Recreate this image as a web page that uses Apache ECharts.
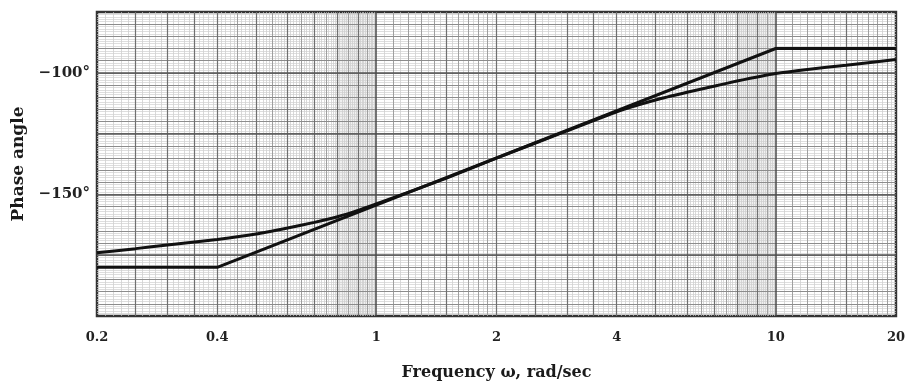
<!DOCTYPE html>
<html>
<head>
<meta charset="utf-8">
<script src="https://cdn.jsdelivr.net/npm/echarts@6/dist/echarts.min.js"></script>
<style>
  html, body { margin: 0; padding: 0; background: #fff; }
  #chart { width: 908px; height: 388px; }
</style>
</head>
<body>
<div id="chart"></div>
<script>
// straight-line (asymptotic) phase approximation
var asymFreq = [0.2, 0.4, 10, 20];
var asymPhase = [-180, -180, -90, -90];

var curveFreq = [0.2, 0.25, 0.3, 0.4, 0.5, 0.6, 0.7, 0.8, 0.9, 1, 1.5, 2, 3, 4, 5, 6, 7, 8, 10, 12, 15, 20];
var curvePhase = [-174, -172.3, -170.8, -168.5, -166.3, -163.8, -161.5, -159.2, -156.6, -153.9,
                  -143.3, -135.1, -123.9, -116, -111.2, -108, -105.5, -103.4, -100.3, -98.6, -96.9, -94.5];

// tick labels
var xTickLabels = [0.2, 0.4, 1, 2, 4, 10, 20];
var yTickLabels = [-150, -100];

// log paper rulings
var xHeavy = [1, 10];
var xMedium = [0.25, 0.3, 0.35, 0.4, 0.5, 0.6, 0.7, 0.8, 0.9, 1.5, 2, 2.5, 3, 3.5, 4, 5, 6, 7, 8, 9, 15];
var xLight = [1.1, 1.2, 1.3, 1.4, 1.6, 1.7, 1.8, 1.9, 11, 12, 13, 14, 16, 17, 18, 19,
              0.45, 0.55, 0.65, 0.75, 0.85, 0.95, 4.5, 5.5, 6.5, 7.5, 8.5, 9.5];

function steps(a, b, d) {
  var out = [];
  for (var i = 1; a + i * d < b - d / 2; i++) out.push(+(a + i * d).toFixed(4));
  return out;
}
var xFine = steps(0.2, 1, 0.01).concat(steps(1, 2, 0.05), steps(2, 10, 0.1), steps(10, 20, 0.5));
var yHeavy = steps(-200, -75, 25);
var yLight = steps(-200, -75, 5);
var yFine = steps(-200, -75, 1);

function vLines(vals, color, width) {
  return vals.map(function (v) {
    return { xAxis: v, lineStyle: { color: color, width: width, type: 'solid' } };
  });
}
function hLines(vals, color, width) {
  return vals.map(function (v) {
    return { yAxis: v, lineStyle: { color: color, width: width, type: 'solid' } };
  });
}

var chart = echarts.init(document.getElementById('chart'));
var serif = '"DejaVu Serif", serif';

var option = {
  animation: false,
  backgroundColor: '#fff',
  grid: {
    left: 97, right: 10, top: 12, bottom: 72,
    show: true, borderColor: '#333', borderWidth: 2.5, backgroundColor: 'transparent'
  },
  xAxis: {
    type: 'log',
    logBase: 10,
    min: 0.2,
    max: 20,
    name: 'Frequency \u03c9, rad/sec',
    nameLocation: 'middle',
    nameGap: 49,
    nameTextStyle: { fontFamily: serif, fontWeight: 'bold', fontSize: 16, color: '#1a1a1a' },
    axisLine: { show: false },
    axisTick: { show: false },
    splitLine: { show: false },
    minorSplitLine: { show: false },
    axisLabel: {
      customValues: xTickLabels,
      margin: 15,
      fontFamily: serif, fontWeight: 'bold', fontSize: 13, color: '#222',
      formatter: function (v) { return String(+(+v).toPrecision(3)); }
    }
  },
  yAxis: {
    type: 'value',
    min: -200,
    max: -75,
    interval: 25,
    name: 'Phase angle',
    nameLocation: 'middle',
    nameRotate: 90,
    nameGap: 70,
    nameTextStyle: { fontFamily: serif, fontWeight: 'bold', fontSize: 17, color: '#1a1a1a' },
    axisLine: { show: false },
    axisTick: { show: false },
    splitLine: { show: false },
    axisLabel: {
      margin: 7,
      fontFamily: serif, fontWeight: 'bold', fontSize: 15, color: '#222',
      formatter: function (v) {
        return yTickLabels.indexOf(v) >= 0 ? '\u2212' + Math.abs(v) + '\u00b0' : '';
      }
    }
  },
  series: [
    {
      name: 'paper',
      type: 'line',
      data: [],
      z: 1,
      silent: true,
      markArea: {
        silent: true,
        itemStyle: { color: 'rgba(0,0,0,0.06)' },
        data: [
          [{ xAxis: 0.8 }, { xAxis: 1 }],
          [{ xAxis: 8 }, { xAxis: 10 }]
        ]
      },
      markLine: {
        silent: true,
        symbol: ['none', 'none'],
        label: { show: false },
        emphasis: { disabled: true },
        data: [].concat(
          vLines(xFine, '#c8c8c8', 0.7),
          hLines(yFine, '#d0d0d0', 0.7),
          vLines(xLight, '#999999', 0.9),
          hLines(yLight, '#8c8c8c', 1),
          vLines(xMedium, '#707070', 1.2),
          hLines(yHeavy, '#555555', 1.5),
          vLines(xHeavy, '#4a4a4a', 1.5)
        )
      }
    },
    {
      name: 'asymptote',
      type: 'line',
      z: 10,
      symbol: 'none',
      lineStyle: { color: '#111', width: 3 },
      data: asymFreq.map(function (f, i) { return [f, asymPhase[i]]; })
    },
    {
      name: 'phase',
      type: 'line',
      z: 10,
      symbol: 'none',
      smooth: 0.15,
      lineStyle: { color: '#111', width: 3 },
      data: curveFreq.map(function (f, i) { return [f, curvePhase[i]]; })
    }
  ]
};

chart.setOption(option);
</script>
</body>
</html>
